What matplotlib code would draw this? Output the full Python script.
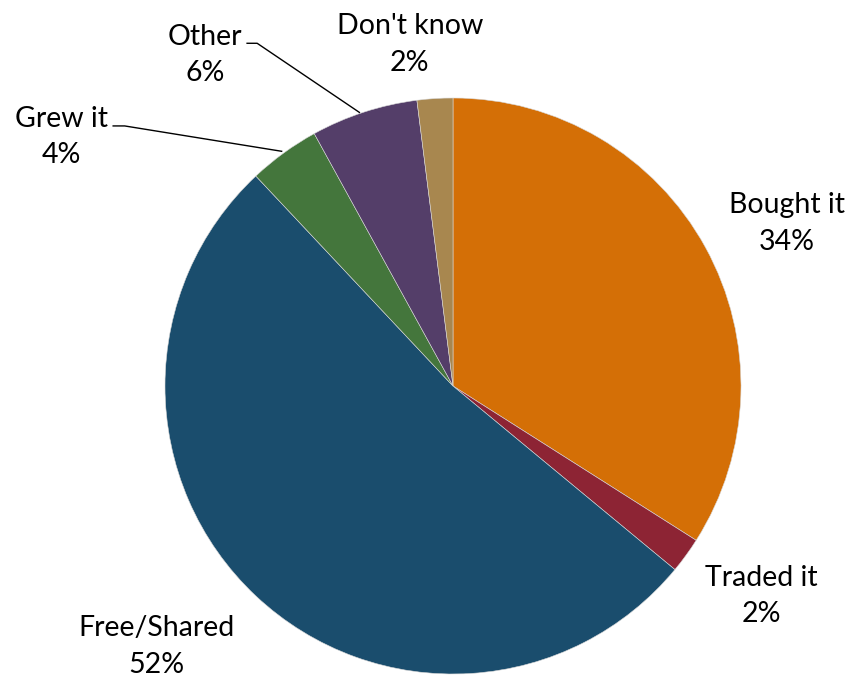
import matplotlib.pyplot as plt

labels = ["Bought it", "Traded it", "Free/Shared", "Grew it", "Other", "Don't know"]
shares = [34, 2, 52, 4, 6, 2]
colors = ["#D46F06", "#8D2434", "#1A4D6D", "#44763C", "#543E69", "#A8874F"]

# label anchor spots (pie units) and optional leader line end on the rim
label_pos = [(1.16, 0.565), (1.07, -0.73), (-1.03, -0.905),
             (-1.36, 0.865), (-0.86, 1.15), (-0.15, 1.185)]
leaders = {3: ((-1.18, 0.903), (-1.14, 0.903), (-0.595, 0.815)),
           4: ((-0.715, 1.19), (-0.68, 1.19), (-0.325, 0.95))}

plt.rcParams['font.family'] = ['Lato', 'DejaVu Sans']

fig = plt.figure(figsize=(8.52, 6.79), dpi=100)
r = 288
ax = fig.add_axes([(453 - r) / 852, (679 - 386 - r) / 679, 2 * r / 852, 2 * r / 679])
ax.pie(shares, colors=colors, startangle=90, counterclock=False,
       wedgeprops=dict(linewidth=0.4, edgecolor="#d8d8d8"))
ax.set_xlim(-1, 1)
ax.set_ylim(-1, 1)
ax.set_aspect('equal')
ax.axis('off')

for i, (name, val) in enumerate(zip(labels, shares)):
    x, y = label_pos[i]
    ax.text(x, y, f"{name}\n{val}%", ha='center', va='center', fontsize=20.5,
            linespacing=1.5, color='black', clip_on=False)
    if i in leaders:
        pts = leaders[i]
        ax.plot([p[0] for p in pts], [p[1] for p in pts], color='black',
                lw=1.0, clip_on=False)

fig.savefig("out.png", dpi=100)
